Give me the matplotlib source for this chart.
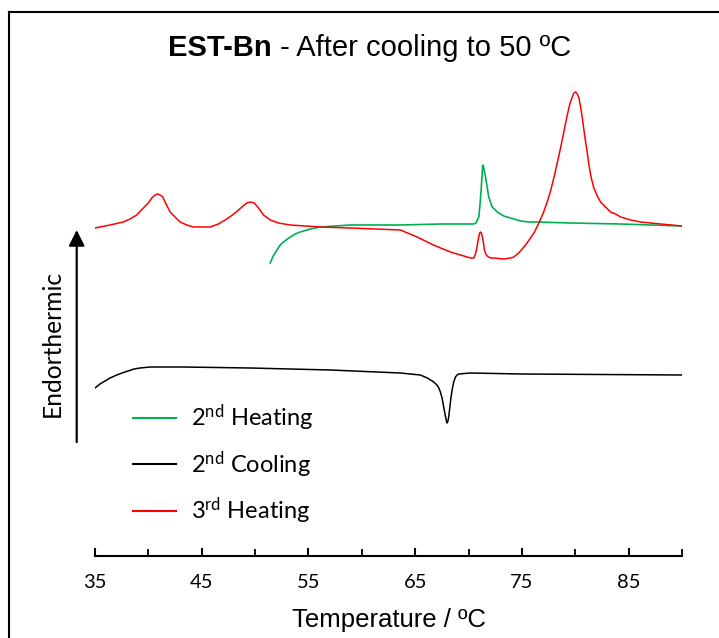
import matplotlib
matplotlib.use("Agg")
import matplotlib.pyplot as plt
from matplotlib.lines import Line2D
from matplotlib.ticker import FixedLocator, MultipleLocator

# ---------------- data (temperature in degC, heat flow in arbitrary units, curves offset) -------------
heat3_T = [35.00, 36.41, 37.65, 38.28, 38.91, 39.53, 40.00, 40.32, 40.63, 40.88, 41.10, 41.35,
           41.66, 42.04, 42.50, 42.97, 43.60, 44.22, 45.01, 45.79, 46.57, 47.35, 48.13, 48.76,
           49.23, 49.54, 49.92, 50.32, 50.79, 51.42, 52.20, 53.29, 54.70, 56.11, 58.92, 61.27,
           63.61, 65.18, 66.71, 68.30, 69.87, 70.18, 70.49, 70.62, 70.74, 70.85, 70.96, 71.04,
           71.12, 71.20, 71.30, 71.40, 71.49, 71.61, 71.74, 72.05, 72.36, 73.30, 73.93, 74.24,
           74.59, 74.87, 75.34, 75.81, 76.18, 76.59, 77.00, 77.37, 77.68, 77.99, 78.31, 78.62,
           78.93, 79.25, 79.49, 79.72, 79.87, 80.03, 80.19, 80.34, 80.50, 80.66, 80.81, 80.97,
           81.13, 81.28, 81.50, 81.74, 82.06, 82.37, 82.84, 83.31, 83.78, 84.25, 85.19, 86.12,
           88.00, 90.00]
heat3_Q = [3.28, 3.31, 3.34, 3.37, 3.41, 3.48, 3.53, 3.58, 3.61, 3.62, 3.61, 3.59,
           3.52, 3.44, 3.39, 3.34, 3.31, 3.29, 3.29, 3.29, 3.32, 3.37, 3.43, 3.49,
           3.53, 3.54, 3.53, 3.48, 3.41, 3.36, 3.33, 3.31, 3.30, 3.29, 3.28, 3.27,
           3.26, 3.19, 3.11, 3.04, 2.99, 2.98, 2.98, 3.01, 3.06, 3.13, 3.19, 3.23,
           3.24, 3.23, 3.19, 3.13, 3.06, 3.02, 3.00, 2.98, 2.98, 2.97, 2.98, 2.99,
           3.02, 3.05, 3.11, 3.18, 3.24, 3.33, 3.43, 3.54, 3.65, 3.78, 3.93, 4.08,
           4.24, 4.41, 4.52, 4.59, 4.63, 4.64, 4.62, 4.58, 4.49, 4.38, 4.26, 4.14,
           4.03, 3.91, 3.78, 3.68, 3.60, 3.54, 3.49, 3.44, 3.42, 3.39, 3.36, 3.34,
           3.32, 3.30]

heat2_T = [51.42, 51.70, 52.05, 52.35, 52.66, 53.29, 53.76, 54.23, 55.17, 56.11, 57.51, 58.92,
           63.61, 67.36, 70.46, 70.69, 70.83, 70.96, 71.07, 71.18, 71.26, 71.33, 71.42, 71.49,
           71.59, 71.68, 71.79, 71.89, 72.05, 72.21, 72.43, 72.68, 72.99, 73.30, 73.93, 74.87,
           75.62, 76.43, 79.56, 84.25, 90.00]
heat2_Q = [2.93, 3.00, 3.06, 3.11, 3.14, 3.19, 3.22, 3.24, 3.27, 3.29, 3.30, 3.31,
           3.31, 3.32, 3.32, 3.33, 3.36, 3.39, 3.51, 3.66, 3.80, 3.91, 3.88, 3.84,
           3.79, 3.73, 3.66, 3.59, 3.54, 3.49, 3.47, 3.44, 3.42, 3.40, 3.38, 3.35,
           3.34, 3.34, 3.33, 3.32, 3.30]

cool2_T = [35.00, 35.47, 35.94, 36.41, 37.04, 37.53, 38.10, 38.66, 39.22, 40.16, 41.10, 43.28,
           49.54, 57.05, 63.61, 64.55, 65.49, 66.14, 66.74, 67.04, 67.22, 67.36, 67.52, 67.67,
           67.83, 67.93, 67.99, 68.07, 68.14, 68.24, 68.35, 68.46, 68.61, 68.77, 68.93, 69.08,
           70.18, 74.87, 90.00]
cool2_Q = [1.68, 1.72, 1.75, 1.78, 1.81, 1.83, 1.85, 1.87, 1.88, 1.89, 1.89, 1.89,
           1.88, 1.86, 1.83, 1.82, 1.81, 1.78, 1.74, 1.71, 1.68, 1.64, 1.58, 1.49,
           1.40, 1.35, 1.33, 1.35, 1.39, 1.48, 1.58, 1.66, 1.74, 1.79, 1.81, 1.82,
           1.83, 1.82, 1.81]

major_ticks = [35, 45, 55, 65, 75, 85]
tick_labels = ["35", "45", "55", "65", "75", "85"]
series_labels = ["2$^{\\mathrm{nd}}$ Heating", "2$^{\\mathrm{nd}}$ Cooling", "3$^{\\mathrm{rd}}$ Heating"]
series_colors = ["#00B050", "#000000", "#FF0000"]

# ---------------- figure ----------------
W, H = 719, 638
plt.rcParams["mathtext.fontset"] = "custom"
plt.rcParams["mathtext.rm"] = "Lato"
plt.rcParams["mathtext.it"] = "Lato:italic"
plt.rcParams["mathtext.bf"] = "Lato:bold"

fig = plt.figure(figsize=(W / 100, H / 100), dpi=100)
fig.patch.set_facecolor("white")

def fx(px):
    return px / W

def fy(py):
    return 1 - py / H

ax = fig.add_axes([fx(95), fy(556), fx(682) - fx(95), fy(60) - fy(556)])
ax.set_xlim(35, 90)
ax.set_ylim(0, 4.96)

l1, = ax.plot(heat2_T, heat2_Q, color=series_colors[0], lw=1.2, solid_joinstyle="round")
l2, = ax.plot(cool2_T, cool2_Q, color=series_colors[1], lw=1.1, solid_joinstyle="round")
l3, = ax.plot(heat3_T, heat3_Q, color=series_colors[2], lw=1.1, solid_joinstyle="round")

for s in ["left", "top", "right"]:
    ax.spines[s].set_visible(False)
ax.spines["bottom"].set_linewidth(1.5)
ax.set_yticks([])
ax.xaxis.set_major_locator(FixedLocator(major_ticks))
ax.set_xticklabels(tick_labels)
ax.xaxis.set_minor_locator(MultipleLocator(5))
ax.tick_params(axis="x", which="major", direction="in", length=6, width=1.5,
               labelsize=14.5, pad=13)
ax.tick_params(axis="x", which="minor", direction="in", length=5, width=1.3)
for t in ax.get_xticklabels():
    t.set_fontfamily("Lato")
ax.set_xlabel("Temperature / ºC", fontsize=18.5, family="Liberation Sans", labelpad=12)

# legend
leg = ax.legend([l1, l2, l3], series_labels, loc="upper left",
                bbox_to_anchor=(fx(124), fy(393)), bbox_transform=fig.transFigure,
                frameon=False, prop={"family": "Lato", "size": 17},
                handlelength=1.8, handletextpad=0.65, labelspacing=0.68, borderaxespad=0)
for h in leg.get_lines():
    h.set_linewidth(1.5)

# endothermic arrow and label
ax.annotate("", xy=(fx(76.7), fy(230)), xytext=(fx(76.7), fy(442)),
            xycoords="figure fraction", textcoords="figure fraction",
            arrowprops=dict(arrowstyle="-|>,head_length=0.5,head_width=0.25",
                            mutation_scale=19, lw=1.6, color="black",
                            shrinkA=0, shrinkB=0))
fig.text(fx(52), fy(343), "Endorthermic", rotation=90, ha="center", va="center",
         fontsize=17.7, family="Lato")

# title: bold part + regular part, centered
fig.canvas.draw()
r = fig.canvas.get_renderer()
tb = fig.text(0, fy(48), "EST-Bn", fontsize=21, fontweight="bold",
              family="Liberation Sans", va="center")
tr = fig.text(0, fy(48), " - After cooling to 50 ºC", fontsize=21,
              family="Liberation Sans", va="center")
wb = tb.get_window_extent(r).width
wr = tr.get_window_extent(r).width
x0 = 369.5 - (wb + wr) / 2
tb.set_x(fx(x0))
tr.set_x(fx(x0 + wb))

# outer frame (left and top edges)
fig.add_artist(Line2D([fx(9), fx(9)], [0, fy(12)], transform=fig.transFigure,
                      color="black", lw=1.5))
fig.add_artist(Line2D([fx(9), 1], [fy(12), fy(12)], transform=fig.transFigure,
                      color="black", lw=1.5))

fig.savefig("out.png", dpi=100, facecolor="white")
